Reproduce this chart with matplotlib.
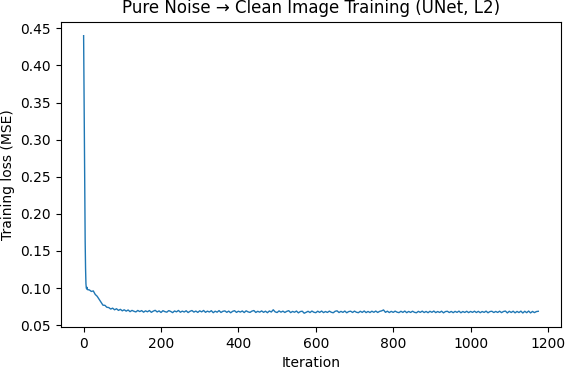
import numpy as np
import matplotlib
matplotlib.use("Agg")
import matplotlib.pyplot as plt

# loss: every iteration for the first drop, then every 5th
early_iters = list(range(0, 11))
early_loss = [0.440, 0.372, 0.295, 0.220, 0.163, 0.127, 0.106, 0.100, 0.099, 0.101, 0.098]

late_iters = list(range(15, 1176, 5))
late_loss = [
    0.0975, 0.0955, 0.0962, 0.0915, 0.0890, 0.0850, 0.0808, 0.0770, 0.0768, 0.0742,
    0.0738, 0.0718, 0.0730, 0.0708, 0.0722, 0.0700, 0.0714, 0.0694, 0.0708, 0.0690,
    0.0705, 0.0683, 0.0700, 0.0688, 0.0679, 0.0699, 0.0684, 0.0697, 0.0676, 0.0694,
    0.0681, 0.0698, 0.0674, 0.0690, 0.0701, 0.0679, 0.0693, 0.0672, 0.0696, 0.0683,
    0.0676, 0.0697, 0.0686, 0.0670, 0.0692, 0.0680, 0.0699, 0.0675, 0.0690, 0.0678,
    0.0695, 0.0671, 0.0688, 0.0698, 0.0677, 0.0691, 0.0673, 0.0694, 0.0680, 0.0699,
    0.0674, 0.0690, 0.0678, 0.0696, 0.0669, 0.0689, 0.0676, 0.0697, 0.0672, 0.0688,
    0.0693, 0.0674, 0.0690, 0.0668, 0.0687, 0.0696, 0.0673, 0.0689, 0.0677, 0.0692,
    0.0671, 0.0694, 0.0680, 0.0673, 0.0690, 0.0698, 0.0672, 0.0688, 0.0676, 0.0693,
    0.0674, 0.0689, 0.0669, 0.0692, 0.0678, 0.0708, 0.0680, 0.0671, 0.0693, 0.0676,
    0.0690, 0.0672, 0.0687, 0.0696, 0.0670, 0.0686, 0.0675, 0.0691, 0.0667, 0.0684,
    0.0689, 0.0662, 0.0674, 0.0688, 0.0671, 0.0691, 0.0675, 0.0669, 0.0689, 0.0673,
    0.0691, 0.0670, 0.0685, 0.0672, 0.0690, 0.0675, 0.0668, 0.0688, 0.0694, 0.0671,
    0.0687, 0.0673, 0.0691, 0.0668, 0.0684, 0.0689, 0.0672, 0.0690, 0.0675, 0.0669,
    0.0688, 0.0673, 0.0692, 0.0670, 0.0686, 0.0671, 0.0689, 0.0674, 0.0691, 0.0672,
    0.0687, 0.0693, 0.0706, 0.0674, 0.0689, 0.0671, 0.0687, 0.0673, 0.0690, 0.0676,
    0.0670, 0.0688, 0.0673, 0.0691, 0.0669, 0.0686, 0.0672, 0.0689, 0.0674, 0.0668,
    0.0687, 0.0673, 0.0690, 0.0671, 0.0686, 0.0669, 0.0688, 0.0674, 0.0691, 0.0670,
    0.0685, 0.0672, 0.0689, 0.0667, 0.0684, 0.0688, 0.0671, 0.0686, 0.0669, 0.0687,
    0.0673, 0.0690, 0.0668, 0.0685, 0.0672, 0.0688, 0.0670, 0.0686, 0.0673, 0.0689,
    0.0671, 0.0687, 0.0669, 0.0685, 0.0673, 0.0690, 0.0668, 0.0684, 0.0688, 0.0671,
    0.0686, 0.0672, 0.0689, 0.0670, 0.0685, 0.0691, 0.0666, 0.0688, 0.0672, 0.0689,
    0.0667, 0.0686, 0.0671, 0.0690, 0.0665, 0.0688, 0.0669, 0.0691, 0.0666, 0.0686,
    0.0670, 0.0684, 0.0688,
]

iters = early_iters + late_iters
loss = early_loss + late_loss

fig = plt.figure(figsize=(5.69, 3.70), dpi=100)
ax = fig.add_axes([0.107, 0.116, 0.879, 0.825])
ax.plot(iters, loss, lw=1.0, color="C0")
ax.set_title("Pure Noise \u2192 Clean Image Training (UNet, L2)")
ax.set_xlabel("Iteration")
ax.set_ylabel("Training loss (MSE)")

fig.savefig("out.png", dpi=100)
